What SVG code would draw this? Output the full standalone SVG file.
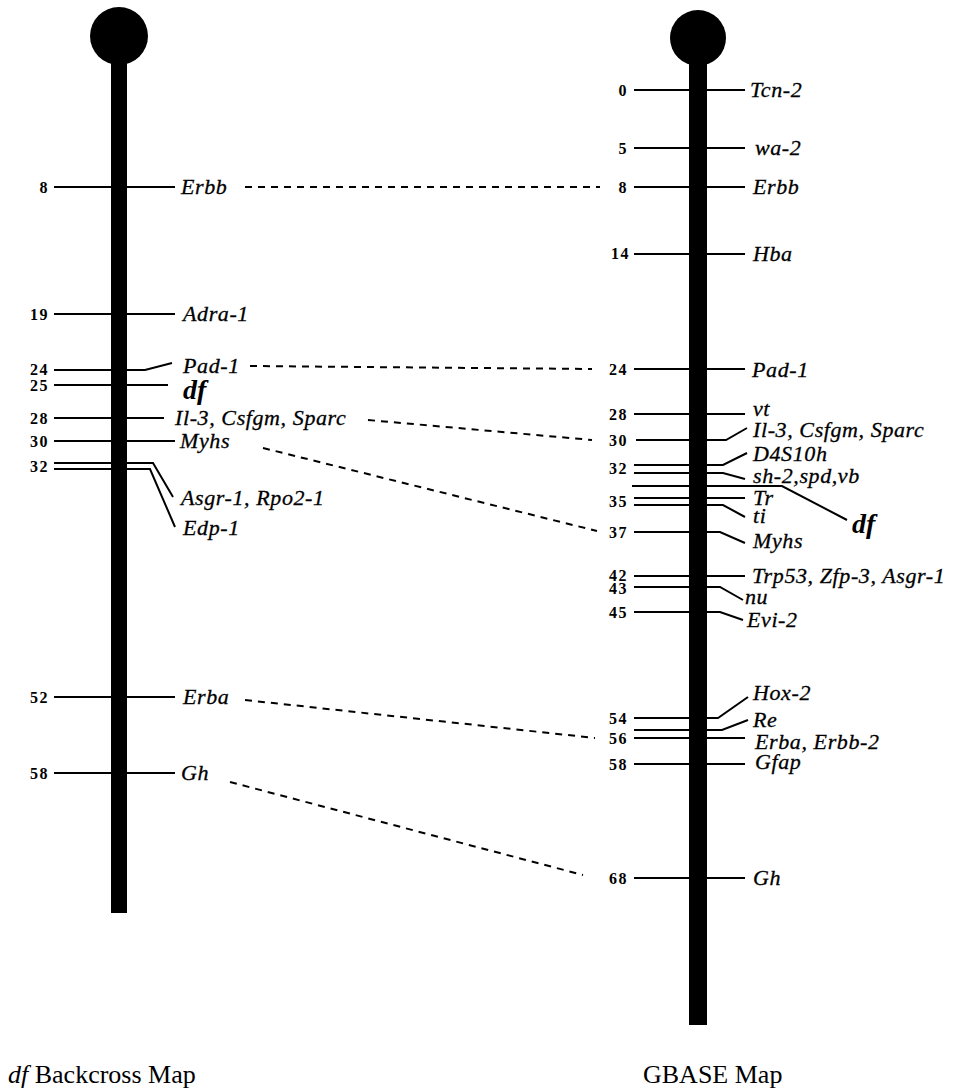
<svg xmlns="http://www.w3.org/2000/svg" width="955" height="1092" viewBox="0 0 955 1092">
<style>
.bar{fill:#000}
.tk{stroke:#000;stroke-width:2;fill:none}
.num{font-family:"Liberation Serif",serif;font-weight:bold;font-size:16px;letter-spacing:1.5px;text-anchor:end;fill:#000}
.lab{font-family:"Liberation Serif",serif;font-style:italic;font-size:22px;letter-spacing:0.6px;fill:#000;stroke:#000;stroke-width:0.3}
.df{font-family:"Liberation Serif",serif;font-style:italic;font-weight:bold;font-size:28px;fill:#000}
.dash{stroke:#000;stroke-width:2;stroke-dasharray:7 6;fill:none}
.title{font-family:"Liberation Serif",serif;font-size:26px;fill:#000}
</style>
<rect width="955" height="1092" fill="#fff"/>
<g id="connectors">
<path class="dash" d="M245 187 L600 187"/>
<path class="dash" d="M250 366 L592 369"/>
<path class="dash" d="M368 420 L592 440"/>
<path class="dash" d="M263 448 L597 531"/>
<path class="dash" d="M245 700 L595 738"/>
<path class="dash" d="M230 782 L583 875"/>
</g>
<g id="backcross-map">
<circle class="bar" cx="119" cy="36" r="29"/>
<rect class="bar" x="111" y="55" width="16" height="858"/>
<g id="L-Erbb"><path class="tk" d="M54 187 H175"/><text class="num" x="49" y="193">8</text><text class="lab" x="181" y="194">Erbb</text></g>
<g id="L-Adra"><path class="tk" d="M54 314 H175"/><text class="num" x="49" y="320">19</text><text class="lab" x="183" y="321">Adra-1</text></g>
<g id="L-Pad"><path class="tk" d="M54 370 H145 L172 363"/><text class="num" x="49" y="375">24</text><text class="lab" x="183" y="373">Pad-1</text></g>
<g id="L-df"><path class="tk" d="M54 385 H168" stroke-width="3"/><text class="num" x="49" y="391">25</text><text class="df" x="183" y="399">df</text></g>
<g id="L-Il3"><path class="tk" d="M54 418 H164" stroke-width="1.5"/><text class="num" x="49" y="424">28</text><text class="lab" x="175" y="425">Il-3, Csfgm, Sparc</text></g>
<g id="L-Myhs"><path class="tk" d="M54 441 H175"/><text class="num" x="49" y="447">30</text><text class="lab" x="180" y="448">Myhs</text></g>
<g id="L-32"><path class="tk" d="M54 463 H153 L173 497"/><path class="tk" d="M54 469 H150 L175 527"/><text class="num" x="49" y="472">32</text><text class="lab" x="181" y="505">Asgr-1, Rpo2-1</text><text class="lab" x="183" y="535">Edp-1</text></g>
<g id="L-Erba"><path class="tk" d="M54 697 H175"/><text class="num" x="49" y="703">52</text><text class="lab" x="183" y="704">Erba</text></g>
<g id="L-Gh"><path class="tk" d="M54 773 H175"/><text class="num" x="49" y="779">58</text><text class="lab" x="181" y="780">Gh</text></g>
</g>
<g id="gbase-map">
<circle class="bar" cx="698" cy="38" r="28"/>
<rect class="bar" x="689" y="58" width="18" height="967"/>
<g id="R-Tcn2"><path class="tk" d="M634 90 H745"/><text class="num" x="628" y="96">0</text><text class="lab" x="750" y="97">Tcn-2</text></g>
<g id="R-wa2"><path class="tk" d="M634 148 H745"/><text class="num" x="628" y="154">5</text><text class="lab" x="755" y="155">wa-2</text></g>
<g id="R-Erbb"><path class="tk" d="M634 187 H745"/><text class="num" x="628" y="193">8</text><text class="lab" x="753" y="194">Erbb</text></g>
<g id="R-Hba"><path class="tk" d="M634 254 H745"/><text class="num" x="630" y="259">14</text><text class="lab" x="753" y="261">Hba</text></g>
<g id="R-Pad"><path class="tk" d="M634 369 H745"/><text class="num" x="628" y="375">24</text><text class="lab" x="752" y="377">Pad-1</text></g>
<g id="R-vt"><path class="tk" d="M634 414 H745"/><text class="num" x="628" y="420">28</text><text class="lab" x="753" y="416">vt</text></g>
<g id="R-Il3"><path class="tk" d="M636 440 H726 L747 428"/><text class="num" x="628" y="446">30</text><text class="lab" x="753" y="437">Il-3, Csfgm, Sparc</text></g>
<g id="R-32"><path class="tk" d="M634 465 H723 L747 453"/><path class="tk" d="M634 473 H723 L745 479"/><text class="num" x="628" y="474">32</text><text class="lab" x="753" y="461">D4S10h</text><text class="lab" x="753" y="483">sh-2,spd,vb</text></g>
<g id="R-df"><path class="tk" d="M632 486 H782 L847 520"/><text class="df" x="852" y="533">df</text></g>
<g id="R-35"><path class="tk" d="M634 498 H745"/><path class="tk" d="M634 505 H723 L745 517"/><text class="num" x="628" y="507">35</text><text class="lab" x="753" y="505">Tr</text><text class="lab" x="753" y="523">ti</text></g>
<g id="R-Myhs"><path class="tk" d="M634 532 H720 L745 543"/><text class="num" x="628" y="538">37</text><text class="lab" x="753" y="548">Myhs</text></g>
<g id="R-Trp53"><path class="tk" d="M634 576 H745"/><text class="num" x="628" y="581">42</text><text class="lab" x="752" y="583">Trp53, Zfp-3, Asgr-1</text></g>
<g id="R-nu"><path class="tk" d="M634 587 H720 L743 600"/><text class="num" x="628" y="594">43</text><text class="lab" x="745" y="604">nu</text></g>
<g id="R-Evi2"><path class="tk" d="M634 612 H720 L743 620"/><text class="num" x="628" y="618">45</text><text class="lab" x="747" y="627">Evi-2</text></g>
<g id="R-Hox2"><path class="tk" d="M634 718 H718 L748 697"/><text class="num" x="628" y="724">54</text><text class="lab" x="753" y="700">Hox-2</text></g>
<g id="R-Re"><path class="tk" d="M634 730 H722 L748 720"/><text class="lab" x="753" y="727">Re</text></g>
<g id="R-Erba"><path class="tk" d="M634 738 H745"/><text class="num" x="628" y="744">56</text><text class="lab" x="755" y="749">Erba, Erbb-2</text></g>
<g id="R-Gfap"><path class="tk" d="M634 764 H745"/><text class="num" x="628" y="770">58</text><text class="lab" x="755" y="769">Gfap</text></g>
<g id="R-Gh"><path class="tk" d="M634 878 H745"/><text class="num" x="628" y="884">68</text><text class="lab" x="753" y="885">Gh</text></g>
</g>
<g id="titles">
<text class="title" x="8" y="1083"><tspan font-style="italic">df</tspan> Backcross Map</text>
<text class="title" x="643" y="1083">GBASE Map</text>
</g>
</svg>
